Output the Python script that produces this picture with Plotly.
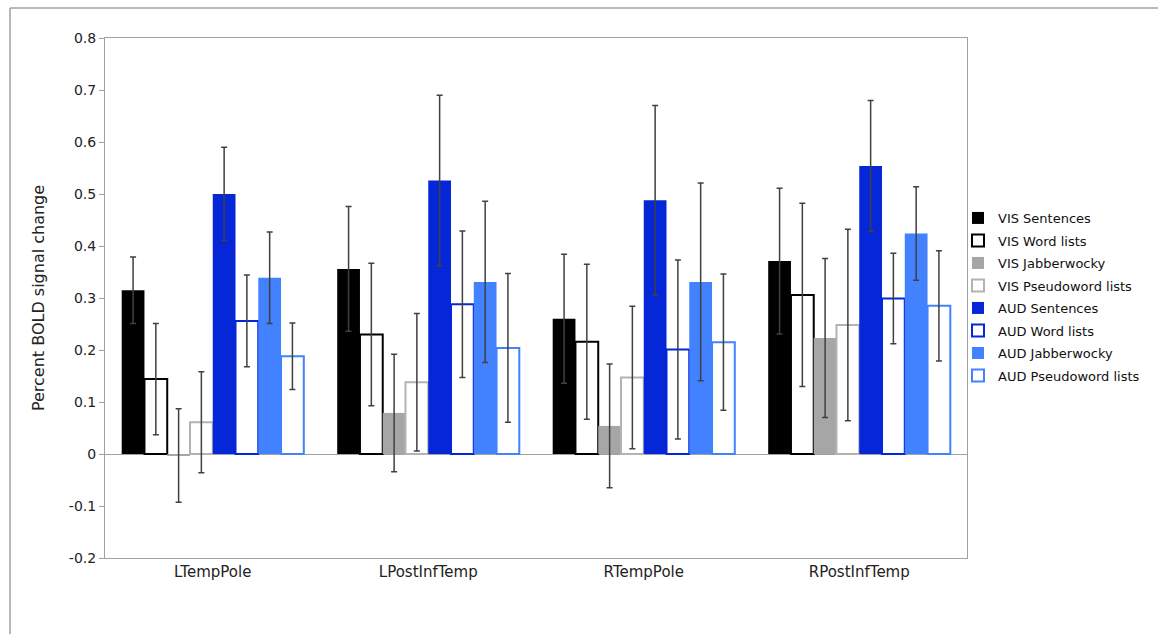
import plotly.graph_objects as go

# Regions of interest and conditions
regions = ["LTempPole", "LPostInfTemp", "RTempPole", "RPostInfTemp"]
conditions = [
    "VIS Sentences", "VIS Word lists", "VIS Jabberwocky", "VIS Pseudoword lists",
    "AUD Sentences", "AUD Word lists", "AUD Jabberwocky", "AUD Pseudoword lists",
]

# Mean percent BOLD signal change per condition (one value per region)
means = {
    "VIS Sentences":        [0.315, 0.356, 0.260, 0.371],
    "VIS Word lists":       [0.144, 0.230, 0.216, 0.306],
    "VIS Jabberwocky":      [-0.003, 0.079, 0.054, 0.223],
    "VIS Pseudoword lists": [0.061, 0.138, 0.147, 0.248],
    "AUD Sentences":        [0.500, 0.526, 0.488, 0.554],
    "AUD Word lists":       [0.256, 0.288, 0.201, 0.299],
    "AUD Jabberwocky":      [0.339, 0.331, 0.331, 0.424],
    "AUD Pseudoword lists": [0.188, 0.204, 0.215, 0.285],
}

# Standard errors (symmetric error bars)
errors = {
    "VIS Sentences":        [0.064, 0.120, 0.124, 0.140],
    "VIS Word lists":       [0.107, 0.137, 0.149, 0.176],
    "VIS Jabberwocky":      [0.090, 0.113, 0.119, 0.153],
    "VIS Pseudoword lists": [0.097, 0.132, 0.137, 0.184],
    "AUD Sentences":        [0.090, 0.164, 0.182, 0.126],
    "AUD Word lists":       [0.088, 0.141, 0.172, 0.087],
    "AUD Jabberwocky":      [0.088, 0.155, 0.190, 0.090],
    "AUD Pseudoword lists": [0.064, 0.143, 0.131, 0.106],
}

# (fill colour, outline colour, outline width)
styles = {
    "VIS Sentences":        ("#000000", "#000000", 0),
    "VIS Word lists":       ("#ffffff", "#000000", 2),
    "VIS Jabberwocky":      ("#a6a6a6", "#a6a6a6", 0),
    "VIS Pseudoword lists": ("#ffffff", "#b3b3b3", 2),
    "AUD Sentences":        ("#0527d8", "#0527d8", 0),
    "AUD Word lists":       ("#ffffff", "#0527d8", 2),
    "AUD Jabberwocky":      ("#4282ff", "#4282ff", 0),
    "AUD Pseudoword lists": ("#ffffff", "#4282ff", 2),
}

FONT = "DejaVu Sans"

fig = go.Figure()
for cond in conditions:
    fill, edge, lw = styles[cond]
    fig.add_trace(go.Bar(
        name=cond,
        legendgroup=cond,
        x=regions,
        y=means[cond],
        marker=dict(color=fill, line=dict(color=edge, width=lw)),
        error_y=dict(type="data", array=errors[cond], visible=True,
                     color="#404040", thickness=1.5, width=3),
    ))

W, H = 1158, 634
L, R, T, B = 105, 191, 38, 76
pw, ph = W - L - R, H - T - B

def px_x(p):
    return (p - L) / pw

def px_y(p):
    return 1 - (p - T) / ph

# outer chart-area frame (top and left edges)
frame = dict(color="#a0a0a0", width=1.5)
fig.add_shape(type="line", xref="paper", yref="paper",
              x0=px_x(10), x1=px_x(W + 20), y0=px_y(8), y1=px_y(8), line=frame)
fig.add_shape(type="line", xref="paper", yref="paper",
              x0=px_x(10), x1=px_x(10), y0=px_y(8), y1=px_y(H), line=frame)

fig.update_layout(
    width=W, height=H,
    margin=dict(l=L, r=R, t=T, b=B),
    paper_bgcolor="white", plot_bgcolor="white",
    barmode="group", bargap=0.155, bargroupgap=0,
    font=dict(family=FONT, color="#222222", size=14),
    showlegend=True,
    legend=dict(x=px_x(958), y=px_y(203), xanchor="left", yanchor="top",
                font=dict(family=FONT, size=13, color="#111111"),
                bgcolor="rgba(0,0,0,0)", itemwidth=30, tracegroupgap=2.6,
                borderwidth=0),
    xaxis=dict(showline=True, linecolor="#a0a0a0", linewidth=1, mirror=True,
               ticks="", tickfont=dict(size=15), showgrid=False, zeroline=False),
    yaxis=dict(range=[-0.2, 0.8],
               tickvals=[-0.2, -0.1, 0, 0.1, 0.2, 0.3, 0.4, 0.5, 0.6, 0.7, 0.8],
               ticktext=["-0.2", "-0.1", "0", "0.1", "0.2", "0.3", "0.4", "0.5", "0.6", "0.7", "0.8"],
               showline=True, linecolor="#a0a0a0", linewidth=1, mirror=True,
               ticks="outside", ticklen=5, tickcolor="#a0a0a0",
               showgrid=False, zeroline=True, zerolinecolor="#a0a0a0", zerolinewidth=1,
               title=dict(text="Percent BOLD signal change", font=dict(size=16), standoff=20)),
)

fig.write_html("out.html")
